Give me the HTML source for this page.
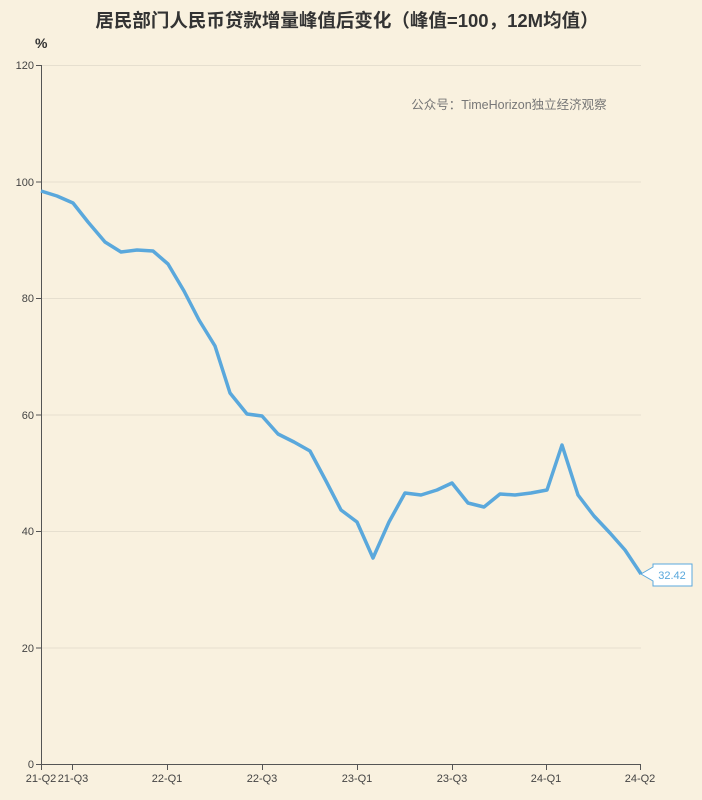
<!DOCTYPE html>
<html><head><meta charset="utf-8"><style>
body{margin:0;background:#f9f1df;}
svg{display:block;font-family:"Liberation Sans","Noto Sans CJK SC",sans-serif;}
</style></head><body>
<svg width="702" height="800" viewBox="0 0 702 800">
<rect width="702" height="800" fill="#f9f1df"/>
<text x="347" y="27" text-anchor="middle" font-size="18.5" font-weight="bold" fill="#333">居民部门人民币贷款增量峰值后变化（峰值=100，12M均值）</text>
<text x="35" y="48" font-size="14" font-weight="bold" fill="#333">%</text>
<g stroke="#e6dfcf" stroke-width="1">
<line x1="42" y1="65.5" x2="641" y2="65.5"/>
<line x1="42" y1="182" x2="641" y2="182"/>
<line x1="42" y1="298.5" x2="641" y2="298.5"/>
<line x1="42" y1="415" x2="641" y2="415"/>
<line x1="42" y1="531.5" x2="641" y2="531.5"/>
<line x1="42" y1="648" x2="641" y2="648"/>
</g>
<g stroke="#555" stroke-width="1">
<line x1="41.5" y1="65" x2="41.5" y2="764"/>
<line x1="41" y1="764.5" x2="641" y2="764.5"/>
<line x1="36" y1="65.5" x2="41" y2="65.5"/><line x1="36" y1="182" x2="41" y2="182"/><line x1="36" y1="298.5" x2="41" y2="298.5"/><line x1="36" y1="415" x2="41" y2="415"/><line x1="36" y1="531.5" x2="41" y2="531.5"/><line x1="36" y1="648" x2="41" y2="648"/><line x1="36" y1="764.5" x2="41" y2="764.5"/>
<line x1="41.5" y1="764" x2="41.5" y2="770"/><line x1="72.5" y1="764" x2="72.5" y2="770"/><line x1="167.5" y1="764" x2="167.5" y2="770"/><line x1="262.5" y1="764" x2="262.5" y2="770"/><line x1="357.5" y1="764" x2="357.5" y2="770"/><line x1="452.5" y1="764" x2="452.5" y2="770"/><line x1="546.5" y1="764" x2="546.5" y2="770"/><line x1="640.5" y1="764" x2="640.5" y2="770"/>
</g>
<g font-size="11" fill="#444" text-anchor="end">
<text x="34" y="69">120</text><text x="34" y="186">100</text><text x="34" y="302">80</text><text x="34" y="419">60</text><text x="34" y="535">40</text><text x="34" y="652">20</text><text x="34" y="768">0</text>
</g>
<g font-size="11" fill="#444" text-anchor="middle">
<text x="41" y="782">21-Q2</text><text x="73" y="782">21-Q3</text><text x="167" y="782">22-Q1</text><text x="262" y="782">22-Q3</text><text x="357" y="782">23-Q1</text><text x="452" y="782">23-Q3</text><text x="546" y="782">24-Q1</text><text x="640" y="782">24-Q2</text>
</g>
<text x="509" y="109" text-anchor="middle" font-size="12.5" fill="#777">公众号：TimeHorizon独立经济观察</text>
<polyline fill="none" stroke="#5aa8dc" stroke-width="3.5" stroke-linejoin="round" points="41,191 57,196 73,203 88,222 105,242 121,252 137,250 153,251 168,264 184,291 199,320 215,346 230,393 247,414 262,416 278,434 294,442 310,451 326,481 341,510 357,522 373,558 389,522 405,493 421,495 437,490 452,483 468,503 484,507 500,494 515,495 531,493 547,490 562,445 578,495 594,516 610,533 625,550 641,574"/>
<path d="M641,574 L653,567 L653,564 L692,564 L692,586 L653,586 L653,581 Z" fill="#fff" stroke="#5aa8dc" stroke-width="1"/>
<text x="672" y="579" text-anchor="middle" font-size="11" fill="#5aa8dc">32.42</text>
</svg>
</body></html>
